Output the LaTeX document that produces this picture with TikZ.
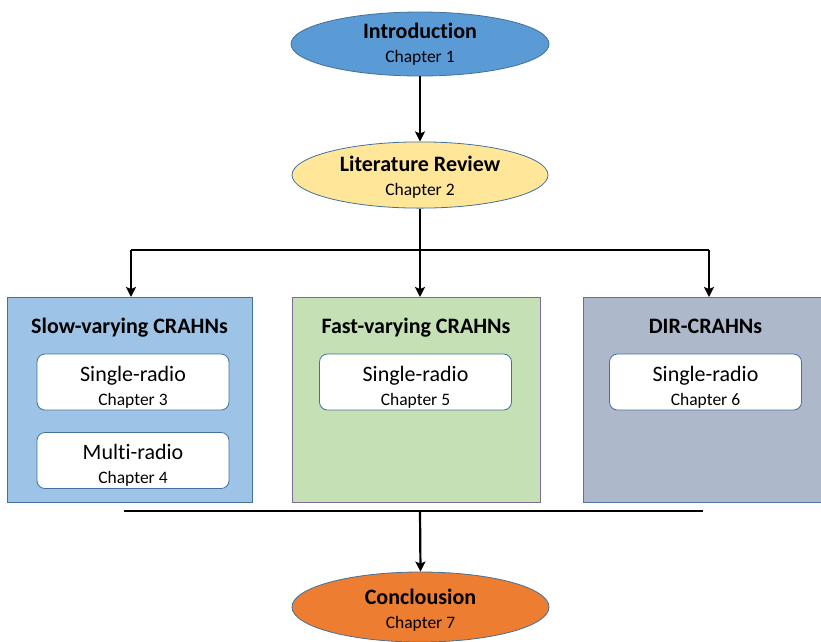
\documentclass[tikz,border=0pt]{standalone}
\usepackage{fontspec}
\setmainfont{Carlito}[Ligatures=NoCommon]
\usetikzlibrary{shapes.geometric,arrows.meta}
\definecolor{introfill}{HTML}{5B9BD5}
\definecolor{litfill}{HTML}{FFE699}
\definecolor{conclfill}{HTML}{ED7D31}
\definecolor{ellborder}{HTML}{41719C}
\definecolor{slowfill}{HTML}{9DC3E6}
\definecolor{slowborder}{HTML}{41719C}
\definecolor{fastfill}{HTML}{C5E0B4}
\definecolor{fastborder}{HTML}{7F6A93}
\definecolor{dirfill}{HTML}{ADB9CA}
\definecolor{dirborder}{HTML}{4F76A6}
\tikzset{
  ell/.style={ellipse, draw=ellborder, line width=0.8pt, minimum width=258pt, inner sep=0pt, align=center,
    font=\fontsize{17.5}{24}\selectfont},
  grp/.style={rectangle, line width=1.2pt, anchor=north west, inner sep=0pt},
  grptitle/.style={font=\bfseries\fontsize{22}{24}\selectfont, inner sep=0pt, anchor=base},
  sub/.style={rectangle, rounded corners=8pt, draw=ellborder, fill=white, line width=0.8pt,
    minimum width=192pt, minimum height=56pt, inner sep=0pt, align=center,
    font=\fontsize{17.5}{24}\selectfont},
  conn/.style={line width=2.2pt, draw=black},
  arr/.style={conn, -{Stealth[length=10pt,width=10pt,inset=2pt]}},
}
\newcommand{\ttl}[2]{{\bfseries\fontsize{22}{24}\selectfont\rule{0pt}{#1}#2}}
\newcommand{\rad}[1]{{\fontsize{22}{24}\selectfont\rule{0pt}{25pt}#1}}
\begin{document}
\begin{tikzpicture}[x=1pt,y=-1pt]
\useasboundingbox (0,0) rectangle (821,641);
% ellipses
\node[ell, fill=introfill, minimum height=64pt] (intro) at (420,44) {\ttl{15pt}{Introduction}\\Chapter 1};
\node[ell, fill=litfill, minimum height=58pt, minimum width=256pt] (lit) at (420,175) {\ttl{20pt}{Literature Review}\\Chapter 2};
\node[ell, fill=conclfill, minimum height=70pt, minimum width=257pt] (concl) at (420.5,607) {\ttl{21pt}{Conclousion}\\Chapter 7};
% group boxes
\node[grp, fill=slowfill, draw=slowborder, minimum width=245pt, minimum height=205pt] (b1) at (7,297) {};
\node[grp, fill=fastfill, draw=fastborder, minimum width=248pt, minimum height=205pt] (b2) at (292,297) {};
\node[grp, fill=dirfill, draw=dirborder, minimum width=242pt, minimum height=205pt] (b3) at (583,297) {};
\node[grptitle] (t1) at (129.5,333) {Slow-varying CRAHNs};
\node[grptitle] (t2) at (416,333) {Fast-varying CRAHNs};
\node[grptitle] (t3) at (705.5,333) {DIR-CRAHNs};
% sub boxes
\node[sub] (s3) at (133,382) {\rad{Single-radio}\\Chapter 3};
\node[sub] (s4) at (133,460.5) {\rad{Multi-radio}\\Chapter 4};
\node[sub] (s5) at (415.5,382) {\rad{Single-radio}\\Chapter 5};
\node[sub] (s6) at (705.5,382) {\rad{Single-radio}\\Chapter 6};
% connectors
\coordinate (j0) at (420,250);
\coordinate (j1) at (131,250);
\coordinate (j3) at (709,250);
\coordinate (m0) at (420,511);
\coordinate (m1) at (124,511);
\coordinate (m3) at (703,511);
\draw[arr] (intro.south) -- (lit.north);
\draw[conn] (lit.south) -- (j0);
\draw[conn] (j1) -- (j3);
\draw[arr] (j1) -- (j1 |- b1.north);
\draw[arr] (j0) -- (j0 |- b2.north);
\draw[arr] (j3) -- (j3 |- b3.north);
\draw[conn] (m1) -- (m3);
\draw[arr] (m0) -- (concl.north);
\end{tikzpicture}
\end{document}
